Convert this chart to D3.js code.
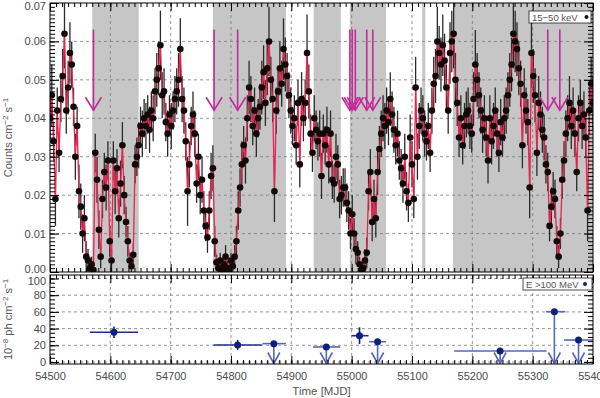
<!DOCTYPE html>
<html><head><meta charset="utf-8">
<script src="https://cdn.jsdelivr.net/npm/d3@7"></script>
<style>body{margin:0;background:#fff}svg{display:block;font-family:"Liberation Sans",Arial,Helvetica,sans-serif}</style>
</head><body><svg id="c" width="600" height="398"></svg>
<script>
// ---------- DATA ----------
// Swift/BAT 15-50 keV light curve, sampled every 3 days from MJD 54500 (values x 1e-3 counts cm^-2 s^-1)
const batStart = 54500, batStep = 3;
const batRate = [
 40,46,34,19,42,31,45,51,62,42,48,57,54,43,30,38,21,17,10,14,
 4,3,1,2,0.5,31,24,11,4,19,26,22,29,8,3,29,21,27,14,23,
 33,20,13,8,3,1.5,4.5,28,30,33,38,36,40,38,41,37,42,40,47,50,
 53,59,46,47,39,36,41,38,42,45,47,50,58,45,42,34,21,28,38,41,
 36,23,30,20,24,16,12,9,16,25,27,8,2.5,1,3,0.5,2,4,1,0.5,
 3,1.5,4,8,16,22,28,33,29,40,48,45,38,42,36,40,43,48,52,44,
 53,60,50,45,21,42,47,53,49,58,54,51,46,42,38,40,33,44,28,45,
 40,44,57,47,36,31,40,37,34,36,25,36,33,37,28,36,24,23,30,28,
 19,20,22,22,18,16,10,15,10,6,5,2,0.5,1,3,5,21,26,13,19,
 14,26,32,36,40,38,42,39,45,41,37,33,36,29,27,23,30,21,18,35,
 28,19,48,30,38,42,40,36,34,38,31,42,49,51,60,57,54,59,55,48,
 42,57,60,62,50,44,35,40,33,38,41,42,38,36,45,54,50,46,42,37,
 40,35,29,40,34,38,42,36,31,39,35,40,42,46,50,54,62,60,58,53,
 49,33,46,42,39,22,57,51,46,31,44,41,37,35,28,26,12,17,21,19,
 8,4,10,24,29,36,40,44,38,42,36,26,40,44,38,41,35,16,42,49,
 44];
const batErr = [
 6,8,5,7,6,5,6,7,9,6,7,8,6,5,6,5,7,6,5,6,
 4,3,3,2,2,5,6,5,3,5,5,6,5,4,3,5,6,5,5,6,
 6,5,4,4,2,2,3,5,5,6,5,6,5,6,5,6,5,6,6,7,
 7,9,6,6,5,6,5,6,5,6,6,7,8,6,6,5,9,6,5,6,
 6,5,6,5,6,5,4,4,5,6,6,4,2,2,2,2,2,3,2,2,
 2,2,3,4,5,5,6,5,6,6,7,6,5,6,6,5,6,7,7,6,
 7,9,6,6,8,6,6,7,6,8,7,6,6,6,5,6,5,6,6,7,
 6,6,10,7,5,5,6,5,5,6,6,5,5,6,5,6,5,5,6,5,
 5,5,5,5,5,5,4,5,4,4,3,2,2,2,3,4,5,6,5,5,
 5,6,6,6,6,6,6,6,7,6,6,5,6,5,5,5,6,5,5,6,
 6,5,8,6,6,6,6,6,5,6,5,6,7,7,9,7,7,8,7,6,
 6,8,8,9,7,6,5,6,5,6,6,6,6,5,7,9,7,6,6,6,
 6,5,6,6,6,6,6,6,5,6,5,6,6,6,7,7,9,8,7,7,
 6,6,7,6,6,8,9,7,7,6,7,6,6,6,5,5,4,5,5,5,
 4,3,4,5,5,6,6,7,6,6,6,5,6,6,6,6,5,8,6,7,
 7];
// shaded intervals (MJD)
const bandStart = [54570, 54770, 54937, 54997, 55117, 55168];
const bandEnd   = [54647, 54891, 54982, 55057, 55122, 55400];
// magenta arrows (MJD)
const flareMjd = [54572, 54772, 54811, 54997, 55001, 55006, 55025, 55035, 55325, 55345];
// Fermi-LAT E>100 MeV (10^-8 ph cm^-2 s^-1)
const latMjd  = [54606, 54811, 54871, 54958, 55013, 55043, 55246, 55336, 55376];
const latLo   = [54566, 54771, 54852, 54936, 55000, 55029, 55170, 55322, 55352];
const latHi   = [54646, 54851, 54891, 54981, 55028, 55057, 55323, 55354, 55400];
const latFlux = [35.6, 20.4, 22, 18, 31.5, 24.3, 13.2, 60.2, 26.3];
const latErr  = [7, 6, 0, 0, 10, 0, 0, 0, 0];
const latUL   = [false, false, true, true, false, true, true, true, true];
// ticks
const xTicks = [54500,54600,54700,54800,54900,55000,55100,55200,55300,55400];
const xTickLabels = ["54500","54600","54700","54800","54900","55000","55100","55200","55300","55400"];
const topTicks = [0,0.01,0.02,0.03,0.04,0.05,0.06,0.07];
const topTickLabels = ["0.00","0.01","0.02","0.03","0.04","0.05","0.06","0.07"];
const botTicks = [0,20,40,60,80,100];

// ---------- LAYOUT ----------
const L = 50, R = 593, T1 = 3, B1 = 272, T2 = 275, B2 = 364;
const svg = d3.select("#c");
const x = d3.scaleLinear().domain([54500, 55400]).range([L, R]);
const y1 = d3.scaleLinear().domain([0, 0.07]).range([B1, T1]);
const y2 = d3.scaleLinear().domain([-2.4, 104.2]).range([B2, T2]);

const defs = svg.append("defs");
defs.append("clipPath").attr("id","cp1").append("rect").attr("x",L).attr("y",T1).attr("width",R-L).attr("height",B1-T1);
defs.append("clipPath").attr("id","cp2").append("rect").attr("x",L).attr("y",T2).attr("width",R-L).attr("height",B2-T2);

const gridColor = "#7a7a7a";
// ---------- TOP PANEL ----------
const g1 = svg.append("g").attr("clip-path","url(#cp1)");
g1.selectAll("rect.band").data(bandStart).join("rect")
  .attr("x", (d,i)=>x(d)).attr("width",(d,i)=>x(bandEnd[i])-x(d))
  .attr("y",T1).attr("height",B1-T1).attr("fill","#c6c6c6");
g1.selectAll("line.gx").data(xTicks.slice(1,-1)).join("line")
  .attr("x1",d=>x(d)).attr("x2",d=>x(d)).attr("y1",T1).attr("y2",B1)
  .attr("stroke",gridColor).attr("stroke-width",0.8).attr("stroke-dasharray","3,3");
g1.selectAll("line.gy").data(topTicks.slice(1,-1)).join("line")
  .attr("x1",L).attr("x2",R).attr("y1",d=>y1(d)).attr("y2",d=>y1(d))
  .attr("stroke",gridColor).attr("stroke-width",0.8).attr("stroke-dasharray","3,3");

const bat = batRate.map((v,i)=>({t: batStart + i*batStep, v: v/1000, e: batErr[i]/1000}));
g1.selectAll("line.err").data(bat).join("line")
  .attr("x1",d=>x(d.t)).attr("x2",d=>x(d.t))
  .attr("y1",d=>y1(Math.max(0,d.v-d.e))).attr("y2",d=>y1(d.v+d.e))
  .attr("stroke","#2a2a2a").attr("stroke-width",1.3);
g1.append("path").datum(bat)
  .attr("d", d3.line().x(d=>x(d.t)).y(d=>y1(d.v)))
  .attr("fill","none").attr("stroke","#e8244f").attr("stroke-width",1.3);
g1.selectAll("circle.pt").data(bat).join("circle")
  .attr("cx",d=>x(d.t)).attr("cy",d=>y1(d.v)).attr("r",3.3).attr("fill","#140808");

// magenta arrows
const arrowTop = 0.0631, arrowTip = 0.0421;
const ag = g1.append("g").attr("stroke","#c42a9c").attr("stroke-width",1.6).attr("fill","none");
flareMjd.forEach(m=>{
  const xx = x(m), yt = y1(arrowTop), yb = y1(arrowTip);
  ag.append("line").attr("x1",xx).attr("x2",xx).attr("y1",yt).attr("y2",yb);
  ag.append("path").attr("d",`M${xx-8},${yb-13}L${xx},${yb}L${xx+8},${yb-13}`);
});

// ---------- BOTTOM PANEL ----------
const g2 = svg.append("g").attr("clip-path","url(#cp2)");
g2.selectAll("line.gx").data(xTicks.slice(1,-1)).join("line")
  .attr("x1",d=>x(d)).attr("x2",d=>x(d)).attr("y1",T2).attr("y2",B2)
  .attr("stroke",gridColor).attr("stroke-width",0.8).attr("stroke-dasharray","3,3");
g2.selectAll("line.gy").data(botTicks).join("line")
  .attr("x1",L).attr("x2",R).attr("y1",d=>y2(d)).attr("y2",d=>y2(d))
  .attr("stroke",gridColor).attr("stroke-width",0.8).attr("stroke-dasharray","3,3");

const navy = "#0e1f7c", lightBlue = "#5667b8";
latMjd.forEach((m,i)=>{
  const col = latUL[i] ? lightBlue : "#1d2f8e";
  g2.append("line").attr("x1",x(latLo[i])).attr("x2",x(latHi[i]))
    .attr("y1",y2(latFlux[i])).attr("y2",y2(latFlux[i]))
    .attr("stroke",col).attr("stroke-width",1.6);
  if (latUL[i]) {
    const yb = y2(-2.4) - 0.5;
    g2.append("line").attr("x1",x(m)).attr("x2",x(m)).attr("y1",y2(latFlux[i])).attr("y2",yb)
      .attr("stroke",lightBlue).attr("stroke-width",1.6);
    g2.append("path").attr("d",`M${x(m)-6},${yb-11}L${x(m)},${yb}L${x(m)+6},${yb-11}`)
      .attr("stroke",lightBlue).attr("stroke-width",1.6).attr("fill","none");
  } else {
    g2.append("line").attr("x1",x(m)).attr("x2",x(m))
      .attr("y1",y2(latFlux[i]-latErr[i])).attr("y2",y2(latFlux[i]+latErr[i]))
      .attr("stroke",navy).attr("stroke-width",1.6);
  }
  g2.append("circle").attr("cx",x(m)).attr("cy",y2(latFlux[i])).attr("r",3.5).attr("fill",navy);
});

// ---------- AXES ----------
const labCol = "#4a4a4a", fs = "11px";
function styleAxis(g){ g.select(".domain").remove(); g.selectAll("line").attr("stroke","#000"); g.selectAll("text").attr("fill",labCol).style("font-size",fs).style("font-family",'"Liberation Sans",Arial,sans-serif'); }
const xMinor = d3.range(54500, 55401, 10);
const y1Minor = d3.range(0, 70.5, 1).map(d=>d/1000);
const y2Minor = d3.range(0, 104, 5);

function xAxes(top, bottom, labels){
  svg.append("g").attr("transform",`translate(0,${top})`).call(d3.axisTop(x).tickValues(xMinor).tickSize(-4).tickFormat("")).call(styleAxis);
  svg.append("g").attr("transform",`translate(0,${top})`).call(d3.axisTop(x).tickValues(xTicks).tickSize(-8).tickFormat("")).call(styleAxis);
  svg.append("g").attr("transform",`translate(0,${bottom})`).call(d3.axisBottom(x).tickValues(xMinor).tickSize(-4).tickFormat("")).call(styleAxis);
  svg.append("g").attr("transform",`translate(0,${bottom})`).call(d3.axisBottom(x).tickValues(xTicks).tickSize(-8).tickPadding(8)
     .tickFormat((d,i)=>labels ? xTickLabels[i] : "")).call(styleAxis);
}
xAxes(T1, B1, false);
xAxes(T2, B2, true);

function yAxes(scale, minor, major, fmt){
  svg.append("g").attr("transform",`translate(${L},0)`).call(d3.axisLeft(scale).tickValues(minor).tickSize(-5).tickFormat("")).call(styleAxis);
  const ga = svg.append("g").attr("transform",`translate(${L},0)`).call(d3.axisLeft(scale).tickValues(major).tickSize(-9).tickPadding(4).tickFormat(fmt)).call(styleAxis);
  svg.append("g").attr("transform",`translate(${R},0)`).call(d3.axisRight(scale).tickValues(minor).tickSize(-5).tickFormat("")).call(styleAxis);
  svg.append("g").attr("transform",`translate(${R},0)`).call(d3.axisRight(scale).tickValues(major).tickSize(-9).tickFormat("")).call(styleAxis);
  return ga;
}
const gTop = yAxes(y1, y1Minor, topTicks, (d,i)=>topTickLabels[i]);
// keep the top-most label inside the picture, and separate the two labels at the panel joint
gTop.selectAll(".tick text").filter(d=>d===0.07).attr("dy","0.62em");
gTop.selectAll(".tick text").filter(d=>d===0).attr("dy","0em");
const gBot = yAxes(y2, y2Minor, botTicks, d=>String(d));
gBot.selectAll(".tick text").filter(d=>d===100).attr("dy","0.58em");

// frames
svg.append("rect").attr("x",L).attr("y",T1).attr("width",R-L).attr("height",B1-T1).attr("fill","none").attr("stroke","#000").attr("stroke-width",1);
svg.append("rect").attr("x",L).attr("y",T2).attr("width",R-L).attr("height",B2-T2).attr("fill","none").attr("stroke","#000").attr("stroke-width",1);

// ---------- TITLES ----------
const t1 = svg.append("text").attr("transform",`translate(12,${(T1+B1)/2}) rotate(-90)`)
  .attr("text-anchor","middle").attr("fill","#555").style("font-size","11px");
t1.append("tspan").text("Counts cm");
t1.append("tspan").attr("dy",-4).style("font-size","8px").text("−2");
t1.append("tspan").attr("dy",4).text(" s");
t1.append("tspan").attr("dy",-4).style("font-size","8px").text("−1");

const t2 = svg.append("text").attr("transform",`translate(12,${(T2+B2)/2}) rotate(-90)`)
  .attr("text-anchor","middle").attr("fill","#555").style("font-size","11px");
t2.append("tspan").text("10");
t2.append("tspan").attr("dy",-4).style("font-size","8px").text("−8");
t2.append("tspan").attr("dy",4).text(" ph cm");
t2.append("tspan").attr("dy",-4).style("font-size","8px").text("−2");
t2.append("tspan").attr("dy",4).text(" s");
t2.append("tspan").attr("dy",-4).style("font-size","8px").text("−1");

svg.append("text").attr("x",(L+R)/2).attr("y",395).attr("text-anchor","middle")
  .attr("fill","#555").style("font-size","11.5px").text("Time [MJD]");

// ---------- LEGENDS ----------
svg.append("rect").attr("x",529).attr("y",11).attr("width",62).attr("height",12).attr("fill","#fff").attr("stroke","#222").attr("stroke-width",0.8);
svg.append("text").attr("x",532).attr("y",20.5).attr("fill","#555").style("font-size","9.5px").text("15−50 keV");
svg.append("circle").attr("cx",586.5).attr("cy",17).attr("r",2).attr("fill","#111");

svg.append("rect").attr("x",523).attr("y",278).attr("width",69).attr("height",12).attr("fill","#fff").attr("stroke","#222").attr("stroke-width",0.8);
svg.append("text").attr("x",526).attr("y",287.5).attr("fill","#555").style("font-size","9.5px").text("E >100 MeV");
svg.append("circle").attr("cx",585).attr("cy",284).attr("r",2).attr("fill",navy);
</script></body></html>
